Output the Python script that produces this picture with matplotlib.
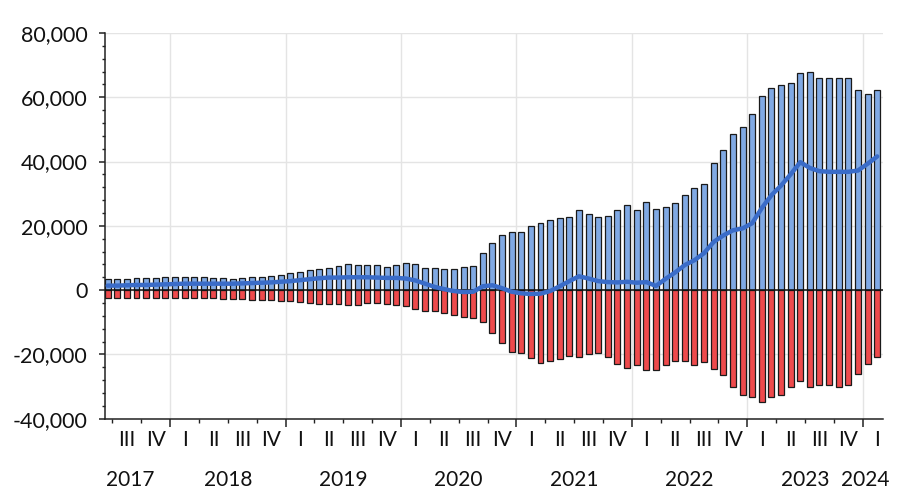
import numpy as np
import matplotlib
matplotlib.use("Agg")
import matplotlib.pyplot as plt
from matplotlib.ticker import FuncFormatter, MultipleLocator
import matplotlib.transforms as mtransforms

plt.rcParams['font.family'] = ['Lato', 'DejaVu Sans']

# monthly values, June 2017 .. February 2024 (thousands)
pos_vals = [3.5, 3.5, 3.6, 3.8, 3.8, 3.9, 4.1,
            4.2, 4.1, 4.0, 4.0, 3.9, 3.8, 3.6, 3.9, 4.1, 4.2, 4.4, 4.6,
            5.2, 5.7, 6.2, 6.7, 7.0, 7.4, 8.0, 7.7, 7.7, 7.7, 7.2, 7.7,
            8.5, 8.0, 7.0, 6.8, 6.7, 6.5, 7.2, 7.6, 11.5, 14.7, 17.1, 18.2,
            18.2, 19.9, 21.0, 21.8, 22.4, 22.6, 25.0, 23.6, 22.6, 23.1, 24.9, 26.5,
            24.9, 27.3, 25.2, 26.0, 27.0, 29.7, 31.8, 33.0, 39.5, 43.6, 48.6, 50.7,
            54.9, 60.3, 62.9, 63.8, 64.5, 67.4, 67.8, 66.1, 66.1, 66.1, 66.1, 62.4,
            61.1, 62.4]
neg_vals = [-2.4, -2.4, -2.4, -2.5, -2.5, -2.5, -2.5,
            -2.5, -2.5, -2.5, -2.5, -2.6, -2.7, -2.8, -2.9, -3.0, -3.0, -3.2, -3.3,
            -3.5, -3.8, -4.0, -4.2, -4.3, -4.3, -4.5, -4.5, -4.1, -4.1, -4.3, -4.5,
            -5.0, -5.8, -6.4, -6.4, -7.0, -7.8, -8.5, -8.8, -10.0, -13.4, -16.5, -19.1,
            -19.7, -21.0, -22.7, -22.2, -21.4, -20.6, -20.9, -19.9, -19.6, -20.9, -23.0, -24.1,
            -23.4, -24.8, -24.8, -23.4, -22.2, -22.0, -23.2, -22.4, -24.5, -26.4, -30.0, -32.6,
            -33.1, -34.7, -33.3, -32.6, -30.0, -28.2, -30.0, -29.5, -29.5, -30.0, -29.5, -26.1,
            -23.0, -20.9]
net_vals = [1.4, 1.4, 1.5, 1.6, 1.6, 1.7, 1.8,
            1.9, 2.0, 2.0, 2.0, 2.0, 2.0, 2.0, 2.1, 2.2, 2.3, 2.4, 2.6,
            2.8, 3.1, 3.4, 3.7, 3.9, 3.9, 4.0, 4.0, 4.0, 3.9, 3.8, 3.8,
            3.6, 3.0, 2.0, 1.0, 0.3, -0.3, -0.6, -0.5, 1.2, 1.5, 0.6, -0.5,
            -1.0, -1.2, -1.1, -0.3, 1.2, 2.8, 4.3, 3.6, 2.8, 2.5, 2.4, 2.6,
            2.3, 2.5, 1.3, 3.5, 5.5, 7.8, 9.3, 11.5, 15.0, 17.0, 18.6, 19.2,
            20.8, 25.5, 29.5, 32.5, 36.0, 39.8, 38.0, 37.0, 36.8, 36.8, 36.8, 37.2,
            39.3, 41.6]

years = ['2017', '2018', '2019', '2020', '2021', '2022', '2023', '2024']
quarters = ['I', 'II', 'III', 'IV']
first_month = 6  # June 2017

pos = np.array(pos_vals) * 1000
neg = np.array(neg_vals) * 1000
net = np.array(net_vals) * 1000
x = np.arange(len(pos))

fig = plt.figure(figsize=(9.07, 4.92), dpi=100)
ax = fig.add_axes([0.1158, 0.149, 0.8577, 0.784])

ax.bar(x, pos, width=0.62, color='#80a9e4', edgecolor='#1a1a1a', linewidth=0.9, zorder=3)
ax.bar(x, neg, width=0.62, color='#ee4a4c', edgecolor='#1a1a1a', linewidth=0.9, zorder=3)
ax.axhline(0, color='#111111', lw=1.1, zorder=4)
ax.plot(x, net, color='#3a6cc8', lw=3.2, zorder=5, solid_capstyle='round')

ax.set_ylim(-40000, 80000)
ax.set_xlim(-0.27, 80.6)

# month index of each 1 January and each quarter start
jan_pos = [12 * k + (13 - first_month) - 0.5 for k in range(7)]
q_start = [m - 0.5 for m in range(len(pos) + 1) if (m + first_month - 1) % 3 == 0]
ax.set_xticks(jan_pos)
ax.set_xticks([q for q in q_start if q not in jan_pos], minor=True)
ax.set_xticklabels([])
ax.tick_params(axis='x', which='major', length=5.5, width=1.1, color='#222222', direction='out')
ax.tick_params(axis='x', which='minor', length=3, width=1.0, color='#222222', direction='out')

ax.yaxis.set_major_locator(MultipleLocator(20000))
ax.yaxis.set_minor_locator(MultipleLocator(4000))
ax.yaxis.set_major_formatter(FuncFormatter(lambda v, p: f"{v:,.0f}"))
ax.tick_params(axis='y', which='major', length=4.5, width=1.1, color='#222222',
               labelsize=15.5, labelcolor='#111111', pad=8)
ax.tick_params(axis='y', which='minor', length=2.5, width=1.0, color='#222222')

ax.grid(axis='both', which='major', color='#e4e4e4', lw=1.0, zorder=0)
ax.set_axisbelow(True)
for s in ['top', 'right']:
    ax.spines[s].set_visible(False)
for s in ['left', 'bottom']:
    ax.spines[s].set_color('#222222')
    ax.spines[s].set_linewidth(1.1)

trans = mtransforms.blended_transform_factory(ax.transData, ax.transAxes)
# quarter labels centred in each quarter
for q in q_start:
    if q + 1.5 > len(pos):
        break
    month = int(q + 0.5 + first_month - 1) % 12
    ax.text(q + 1.5, -0.055, quarters[month // 3], transform=trans, ha='center', va='center',
            fontsize=15, color='#111111')

year_x = [2.3, 12.5, 24.5, 36.5, 48.5, 60.5, 72.5, 78.8]
for yx, yl in zip(year_x, years):
    ax.text(yx, -0.16, yl, transform=trans, ha='center', va='center',
            fontsize=15, color='#111111')

fig.savefig('out.png', dpi=100)
